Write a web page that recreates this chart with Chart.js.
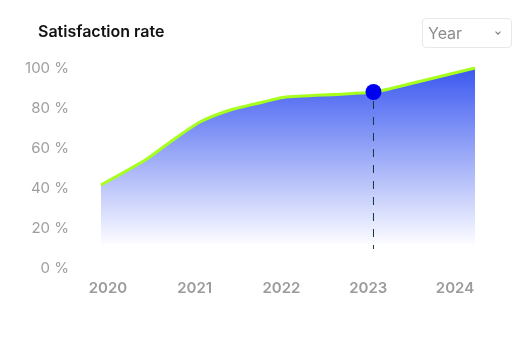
<!DOCTYPE html>
<html>
<head>
<meta charset="utf-8">
<script src="https://cdn.jsdelivr.net/npm/chart.js@4/dist/chart.umd.min.js"></script>
<style>
  html, body { margin: 0; padding: 0; background: #fff; }
  #wrap { position: relative; width: 531px; height: 337px; font-family: Inter, sans-serif; }
  #chart { position: absolute; left: 0; top: 0; }
  .title { position: absolute; left: 38px; top: 21px; font-size: 16px; font-weight: 600; color: #111; line-height: 20px; }
  .picker { position: absolute; left: 422px; top: 18px; width: 88px; height: 28px; border: 1px solid #e8e8e8; border-radius: 4px; }
  .picker span { position: absolute; left: 5px; top: 4px; font-size: 16px; color: #8c8c8c; line-height: 20px; }
  .picker i { position: absolute; left: 73px; top: 11px; width: 3px; height: 3px; border-right: 1px solid #777; border-bottom: 1px solid #777; transform: rotate(45deg); }
</style>
</head>
<body>
<div id="wrap">
  <canvas id="chart" width="531" height="337"></canvas>
  <div class="title">Satisfaction rate</div>
  <div class="picker"><span>Year</span><i></i></div>
</div>
<script>
// year ticks along the bottom
const tickYears = [2020, 2021, 2022, 2023, 2024];
const rateTicks = [0, 20, 40, 60, 80, 100];

// satisfaction curve (fractional years, %)
const curveYears = [2019.92, 2020.43, 2020.75, 2021.06, 2021.41, 2021.79, 2022.02, 2023.06, 2023.52, 2024.23];
const curveRates = [41.5, 54, 64, 73, 79, 83, 85.3, 88, 92.5, 100];

// highlighted point and the drop line under it
const markerYear = 2023.06;
const markerRate = 88;
const dropTo = 9.5;
const fillFloor = 12;

const curve = curveYears.map((x, i) => ({ x, y: curveRates[i] }));

function areaGradient(ctx) {
  const { chart } = ctx;
  const area = chart.chartArea;
  if (!area) return 'rgba(59,88,240,0.5)';
  const bottom = chart.scales.y.getPixelForValue(fillFloor);
  const g = chart.ctx.createLinearGradient(0, area.top, 0, bottom);
  g.addColorStop(0, 'rgb(59,88,240)');
  g.addColorStop(1, 'rgb(252,252,255)');
  return g;
}

new Chart(document.getElementById('chart'), {
  type: 'line',
  data: {
    datasets: [
      {
        data: [{ x: markerYear, y: markerRate }],
        pointRadius: 8,
        pointBackgroundColor: '#0000f0',
        pointBorderWidth: 0,
        showLine: false,
        order: 0
      },
      {
        data: [{ x: markerYear, y: markerRate }, { x: markerYear, y: dropTo }],
        borderColor: '#0d3b3b',
        borderWidth: 1,
        borderDash: [8, 8],
        borderDashOffset: 7,
        pointRadius: 0,
        order: 1
      },
      {
        data: curve,
        borderColor: '#a6ff1c',
        borderWidth: 3,
        tension: 0.22,
        pointRadius: 0,
        fill: { value: fillFloor },
        backgroundColor: areaGradient,
        clip: 6,
        order: 2
      }
    ]
  },
  options: {
    responsive: false,
    animation: false,
    events: [],
    layout: { padding: { top: 68, right: 56, bottom: 39, left: 0 } },
    plugins: { legend: { display: false }, tooltip: { enabled: false } },
    scales: {
      x: {
        type: 'linear',
        min: 2019.92,
        max: 2024.23,
        grid: { display: false, drawTicks: false },
        border: { display: false },
        afterBuildTicks: s => { s.ticks = tickYears.map(v => ({ value: v })); },
        afterFit: s => { s.height = 30; },
        ticks: {
          padding: 11,
          color: '#9b9b9b',
          font: { family: 'Inter', size: 15, weight: 600 },
          callback: v => String(v)
        }
      },
      y: {
        min: 0,
        max: 100,
        grid: { display: false, drawTicks: false },
        border: { display: false },
        afterBuildTicks: s => { s.ticks = rateTicks.map(v => ({ value: v })); },
        afterFit: s => { s.width = 101; },
        ticks: {
          padding: 32,
          color: '#9e9e9e',
          font: { family: 'Inter', size: 15 },
          callback: v => v + ' %'
        }
      }
    }
  }
});
</script>
</body>
</html>
